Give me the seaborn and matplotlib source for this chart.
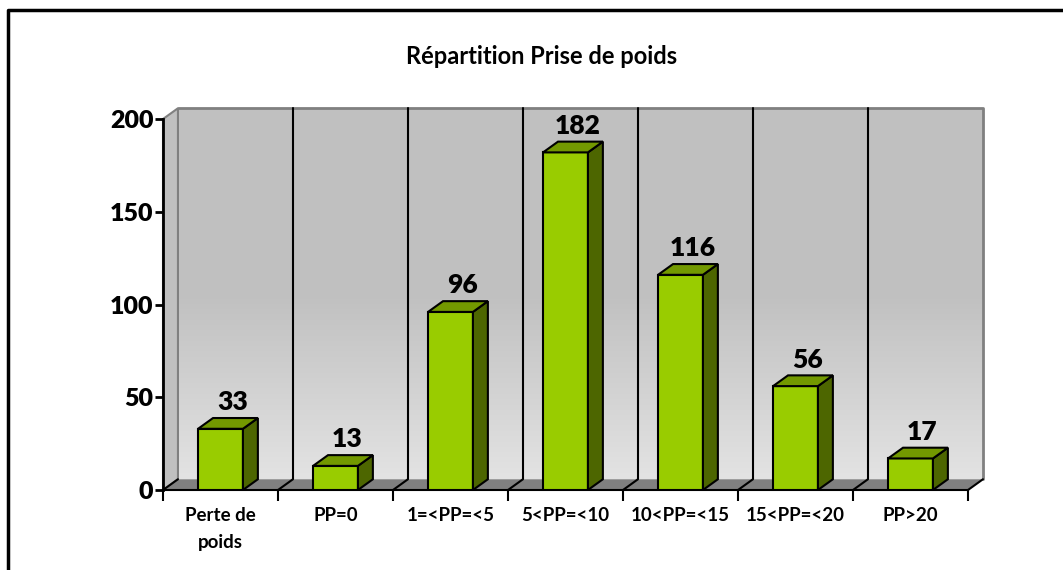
import numpy as np
import pandas as pd
import seaborn as sns
import matplotlib.pyplot as plt
from matplotlib.patches import Polygon

# données du graphique
categories = ["Perte de\npoids", "PP=0", "1=<PP=<5", "5<PP=<10", "10<PP=<15", "15<PP=<20", "PP>20"]
values = [33, 13, 96, 182, 116, 56, 17]
y_ticks = [0, 50, 100, 150, 200]
titre = "Répartition Prise de poids"

front_color = "#99CC00"
top_color = "#739900"
side_color = "#4D6600"
dx, dy = 0.13, 5.8  # décalage "3D" en unités de données

sns.set_style("ticks")
plt.rcParams["font.family"] = ["Lato", "DejaVu Sans"]
plt.rcParams["text.color"] = "black"
plt.rcParams["xtick.color"] = "black"
plt.rcParams["ytick.color"] = "black"
plt.rcParams["axes.labelcolor"] = "black"

fig = plt.figure(figsize=(10.63, 5.70), dpi=100)
ax = fig.add_axes([163 / 1063, 80 / 570, 805 / 1063, 371 / 570])

df = pd.DataFrame({"cat": categories, "val": values})
sns.barplot(data=df, x="cat", y="val", color=front_color, saturation=1, width=0.39,
            edgecolor="black", linewidth=1.5, ax=ax, zorder=3)
bars = list(ax.patches)

# mur du fond avec dégradé
f = np.linspace(0, 1, 200)
shade = np.where(f > 0.5, 0.753, 0.753 + (0.5 - f) / 0.5 * (0.89 - 0.753))
grad = np.dstack([shade, shade, shade]).reshape(200, 1, 3)
ax.imshow(grad, extent=[-0.5 + dx, 6.5 + dx, dy, 200 + dy], aspect="auto",
          origin="lower", zorder=0, clip_on=False)
ax.plot([-0.5 + dx, 6.5 + dx, 6.5 + dx], [200 + dy, 200 + dy, dy],
        color="#808080", lw=2, zorder=1, clip_on=False)

# mur de gauche
ax.add_patch(Polygon([(-0.5, 0), (-0.5 + dx, dy), (-0.5 + dx, 200 + dy), (-0.5, 200)],
                     closed=True, facecolor="#C0C0C0", edgecolor="#808080", lw=1.5,
                     zorder=0.5, clip_on=False))

# sol
ax.add_patch(Polygon([(-0.5, 0), (6.5, 0), (6.5 + dx, dy), (-0.5 + dx, dy)],
                     closed=True, facecolor="#808080", edgecolor="none",
                     zorder=1.5, clip_on=False))

# lignes verticales du fond et du sol
for b in np.arange(0.5, 6, 1):
    ax.plot([b + dx, b + dx], [dy, 200 + dy], color="black", lw=1.5, zorder=1, clip_on=False)
for b in np.arange(-0.5, 7, 1):
    ax.plot([b, b + dx], [0, dy], color="black", lw=1.5, zorder=2, clip_on=False)

# faces supérieures et latérales des barres
for p, v in zip(bars, values):
    x0 = p.get_x()
    x1 = x0 + p.get_width()
    ax.add_patch(Polygon([(x1, 0), (x1 + dx, dy), (x1 + dx, v + dy), (x1, v)], closed=True,
                         facecolor=side_color, edgecolor="black", lw=1.5, zorder=3, clip_on=False))
    ax.add_patch(Polygon([(x0, v), (x1, v), (x1 + dx, v + dy), (x0 + dx, v + dy)], closed=True,
                         facecolor=top_color, edgecolor="black", lw=1.5, zorder=3, clip_on=False))
    ax.text(x0 + p.get_width() / 2 + 0.8 * dx, v + dy + 2, str(v), ha="center", va="bottom",
            fontsize=19, fontweight="heavy", color="black", zorder=5)

ax.set_xlim(-0.5, 6.5)
ax.set_ylim(0, 200)
ax.set_xlabel("")
ax.set_ylabel("")

ax.set_yticks(y_ticks)
ax.set_yticklabels([str(t) for t in y_ticks], fontsize=18, fontweight="heavy")
ax.tick_params(axis="y", length=6, width=2, pad=1, color="black")

ax.set_xticks(np.arange(-0.5, 7, 1))
ax.set_xticklabels([])
ax.set_xticks(range(len(categories)), minor=True)
ax.set_xticklabels(categories, minor=True, fontsize=13.5, fontweight="bold", linespacing=1.75)
ax.tick_params(axis="x", which="major", length=8, width=1.5, color="black")
ax.tick_params(axis="x", which="minor", length=0, pad=12)

sns.despine(ax=ax, top=True, right=True)
ax.spines["left"].set_linewidth(2)
ax.spines["left"].set_color("black")
ax.spines["bottom"].set_linewidth(1.5)
ax.spines["bottom"].set_color("black")

fig.text(542 / 1063, 1 - 57 / 570, titre, ha="center", va="center",
         fontsize=17, fontweight="bold", color="black")

# cadre extérieur
fig.add_artist(plt.Line2D([8 / 1063, 8 / 1063, 1], [0, 1 - 10 / 570, 1 - 10 / 570],
                          color="black", lw=2.5, transform=fig.transFigure))

fig.savefig("out.png", dpi=100)
